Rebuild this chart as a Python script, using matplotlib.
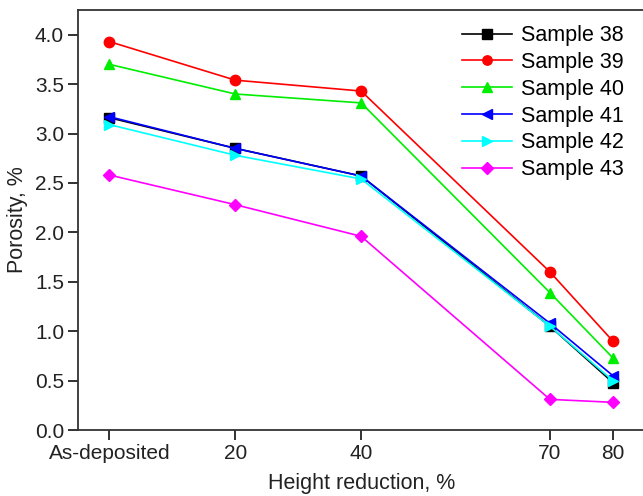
import matplotlib
matplotlib.use("Agg")
from matplotlib import pyplot as plt

plt.rcParams['font.family'] = ['Liberation Sans', 'DejaVu Sans']

x_pos = [0, 20, 40, 70, 80]
x_labels = ['As-deposited', '20', '40', '70', '80']

s38 = [3.16, 2.85, 2.57, 1.05, 0.48]
s39 = [3.93, 3.54, 3.43, 1.60, 0.90]
s40 = [3.70, 3.40, 3.31, 1.39, 0.73]
s41 = [3.17, 2.85, 2.57, 1.08, 0.55]
s42 = [3.09, 2.78, 2.54, 1.05, 0.50]
s43 = [2.58, 2.28, 1.96, 0.31, 0.28]

series = [
    ('Sample 38', s38, 'black', 's'),
    ('Sample 39', s39, 'red', 'o'),
    ('Sample 40', s40, '#00ee00', '^'),
    ('Sample 41', s41, 'blue', '<'),
    ('Sample 42', s42, 'cyan', '>'),
    ('Sample 43', s43, 'magenta', 'D'),
]

fig = plt.figure(figsize=(6.43, 4.96), dpi=100)
ax = fig.add_axes([78/643, 1 - 430/496, 1 - 78/643 + 0.002, (430 - 10)/496])

for name, vals, col, mk in series:
    ms = 6.5 if mk == 'D' else 7.5
    ax.plot(x_pos, vals, color=col, marker=mk, markersize=ms, linewidth=1.2, label=name)

ax.set_xlim(-5, 85)
ax.set_ylim(0, 4.25)
ax.set_xticks(x_pos)
ax.set_xticklabels(x_labels)
ax.set_yticks([0.0, 0.5, 1.0, 1.5, 2.0, 2.5, 3.0, 3.5, 4.0])
ax.set_yticklabels(['%.1f' % v for v in ax.get_yticks()])

for sp in ax.spines.values():
    sp.set_linewidth(1.3)
    sp.set_color('#333333')
ax.spines['right'].set_visible(False)

ax.tick_params(direction='out', length=7, width=1.3, labelsize=15, colors='#222222', pad=3)

ax.set_xlabel('Height reduction, %', fontsize=15.5, labelpad=7, color='#222222')
ax.set_ylabel('Porosity, %', fontsize=15.5, labelpad=5, color='#222222')

ax.legend(loc='upper right', bbox_to_anchor=(0.99, 1.0), frameon=False, fontsize=15.5,
          handlelength=2.3, handletextpad=0.4, labelspacing=0.27, borderaxespad=0.3,
          markerscale=0.9)

fig.savefig('out.png', dpi=100)
